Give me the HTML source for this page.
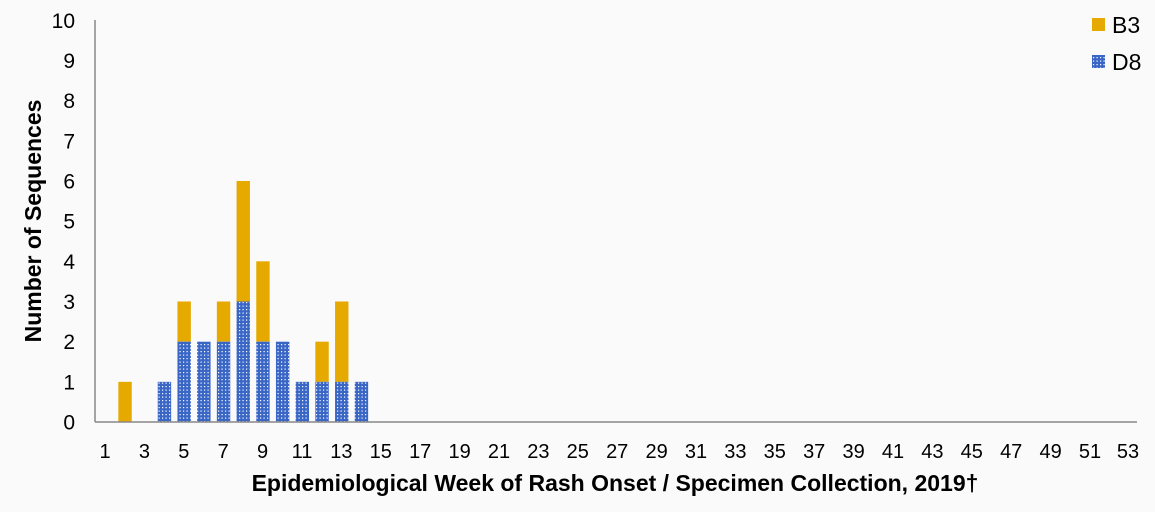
<!DOCTYPE html>
<html><head><style>body{margin:0;background:#fafafa}svg{display:block}</style></head><body>
<svg width="1155" height="512" xmlns="http://www.w3.org/2000/svg" font-family="Liberation Sans, Arial, sans-serif">
<defs><pattern id="d" width="3.5" height="3.5" patternUnits="userSpaceOnUse"><rect width="3.5" height="3.5" fill="#3a66c6"/><rect x="1" y="1" width="1.2" height="1.2" fill="#fff"/></pattern></defs>
<rect width="1155" height="512" fill="#fafafa"/>
<g fill="#e5a900">
<rect x="118.35" y="381.83" width="13.4" height="40.17"/>
<rect x="177.45" y="301.49" width="13.4" height="40.17"/>
<rect x="216.85" y="301.49" width="13.4" height="40.17"/>
<rect x="236.55" y="180.98" width="13.4" height="120.51"/>
<rect x="256.25" y="261.32" width="13.4" height="80.34"/>
<rect x="315.35" y="341.66" width="13.4" height="40.17"/>
<rect x="335.05" y="301.49" width="13.4" height="80.34"/>
</g>
<g fill="url(#d)">
<rect x="157.75" y="381.83" width="13.4" height="40.17"/>
<rect x="177.45" y="341.66" width="13.4" height="80.34"/>
<rect x="197.15" y="341.66" width="13.4" height="80.34"/>
<rect x="216.85" y="341.66" width="13.4" height="80.34"/>
<rect x="236.55" y="301.49" width="13.4" height="120.51"/>
<rect x="256.25" y="341.66" width="13.4" height="80.34"/>
<rect x="275.95" y="341.66" width="13.4" height="80.34"/>
<rect x="295.65" y="381.83" width="13.4" height="40.17"/>
<rect x="315.35" y="381.83" width="13.4" height="40.17"/>
<rect x="335.05" y="381.83" width="13.4" height="40.17"/>
<rect x="354.75" y="381.83" width="13.4" height="40.17"/>
</g>
<line x1="95" y1="20" x2="95" y2="422" stroke="#888" stroke-width="1.5"/>
<line x1="95" y1="422" x2="1137" y2="422" stroke="#888" stroke-width="1.5"/>
<g font-size="21" text-anchor="end" fill="#000">
<text x="75" y="429.5">0</text><text x="75" y="389.3">1</text><text x="75" y="349.2">2</text><text x="75" y="309">3</text><text x="75" y="268.8">4</text><text x="75" y="228.7">5</text><text x="75" y="188.5">6</text><text x="75" y="148.3">7</text><text x="75" y="108.1">8</text><text x="75" y="68">9</text><text x="75" y="27.8">10</text>
</g>
<g font-size="20" text-anchor="middle" fill="#000">
<text x="105" y="458">1</text><text x="144.4" y="458">3</text><text x="183.8" y="458">5</text><text x="223.2" y="458">7</text><text x="262.6" y="458">9</text><text x="302" y="458">11</text><text x="341.4" y="458">13</text><text x="380.8" y="458">15</text><text x="420.2" y="458">17</text><text x="459.6" y="458">19</text><text x="499" y="458">21</text><text x="538.4" y="458">23</text><text x="577.8" y="458">25</text><text x="617.2" y="458">27</text><text x="656.6" y="458">29</text><text x="696" y="458">31</text><text x="735.4" y="458">33</text><text x="774.8" y="458">35</text><text x="814.2" y="458">37</text><text x="853.6" y="458">39</text><text x="893" y="458">41</text><text x="932.4" y="458">43</text><text x="971.8" y="458">45</text><text x="1011.2" y="458">47</text><text x="1050.6" y="458">49</text><text x="1090" y="458">51</text><text x="1128" y="458">53</text>
</g>
<text x="0" y="0" transform="translate(41,221) rotate(-90)" text-anchor="middle" font-size="23" font-weight="bold">Number of Sequences</text>
<text x="615" y="491" text-anchor="middle" font-size="23" font-weight="bold">Epidemiological Week of Rash Onset / Specimen Collection, 2019†</text>
<rect x="1092" y="18" width="13" height="13" fill="#e5a900"/>
<text x="1112" y="33" font-size="23">B3</text>
<rect x="1092" y="55" width="13" height="13" fill="url(#d)"/>
<text x="1112" y="70" font-size="23">D8</text>
</svg>
</body></html>
